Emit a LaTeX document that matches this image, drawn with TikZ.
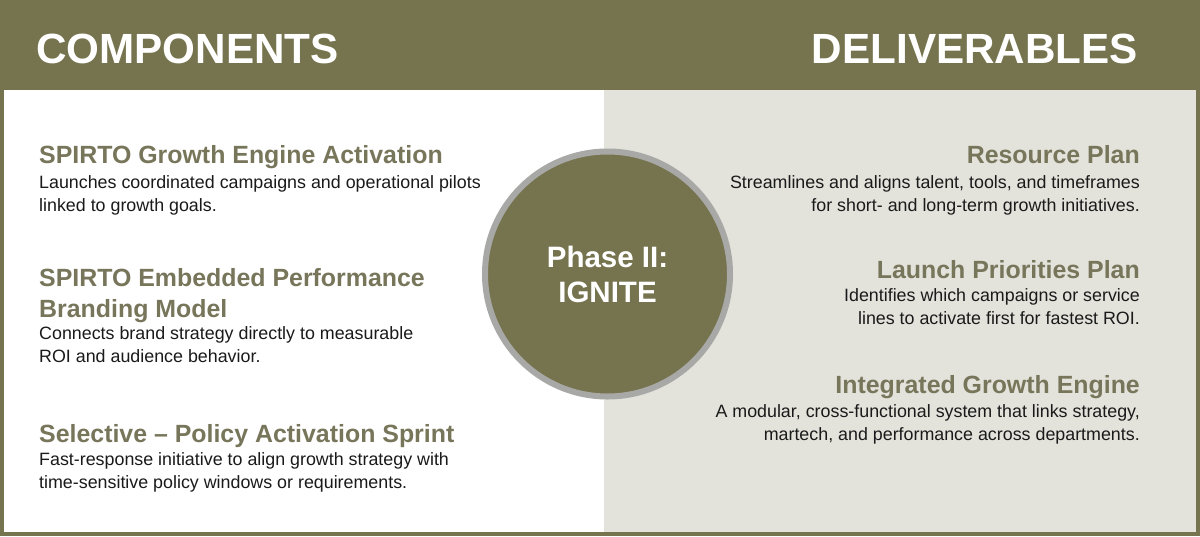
\documentclass[tikz,border=0pt]{standalone}
\usepackage{fontspec}
\setmainfont{Liberation Sans}
\definecolor{olive}{HTML}{76744F}
\definecolor{headtxt}{HTML}{77755A}
\definecolor{panelgray}{HTML}{E3E3DC}
\definecolor{ringgray}{HTML}{A8A8A6}
\definecolor{bodytxt}{HTML}{1A1A1A}
\begin{document}
\begin{tikzpicture}[x=1pt,y=-1pt,
  title/.style={font=\fontsize{42.2}{46}\selectfont\bfseries, text=white, inner sep=0pt},
  heading/.style={font=\fontsize{24.9}{31}\selectfont\bfseries, text=headtxt, inner sep=0pt},
  body/.style={font=\fontsize{17.85}{22.5}\selectfont, text=bodytxt, inner sep=0pt},
  phase/.style={font=\fontsize{29.5}{35}\selectfont\bfseries, text=white, align=center, inner sep=0pt}]
\useasboundingbox (0,0) rectangle (1200,536);
\fill[olive] (0,0) rectangle (1200,536);
\fill[white] (4,90) rectangle (604,532);
\fill[panelgray] (604,90) rectangle (1196,532);
% headers
\node[title, anchor=base west] (comp) at (36,63) {COMPONENTS};
\node[title, anchor=base east] (deliv) at (1138,63) {DELIVERABLES};
% circle
\node[circle, fill=olive, draw=ringgray, line width=6pt, minimum size=245pt, inner sep=0pt] (phasec) at (607.5,274) {};
\node[phase, anchor=base] (ph1) at (607.5,267) {Phase II:};
\node[phase, anchor=base] (ph2) at (607.5,302) {IGNITE};
% left column
\node[heading, anchor=base west] (l1h) at (39,163) {SPIRTO Growth Engine Activation};
\node[body, anchor=base west, align=left] (l1b) at (39,211) {Launches coordinated campaigns and operational pilots\\linked to growth goals.};
\node[heading, anchor=base west, align=left] (l2h) at (39,317) {SPIRTO Embedded Performance\\Branding Model};
\node[body, anchor=base west, align=left] (l2b) at (39,362) {Connects brand strategy directly to measurable\\ROI and audience behavior.};
\node[heading, anchor=base west] (l3h) at (39,442) {Selective – Policy Activation Sprint};
\node[body, anchor=base west, align=left] (l3b) at (39,488) {Fast-response initiative to align growth strategy with\\time-sensitive policy windows or requirements.};
% right column
\node[heading, anchor=base east] (r1h) at (1140,163) {Resource Plan};
\node[body, anchor=base east, align=right] (r1b) at (1140,211) {Streamlines and aligns talent, tools, and timeframes\\for short- and long-term growth initiatives.};
\node[heading, anchor=base east] (r2h) at (1140,278) {Launch Priorities Plan};
\node[body, anchor=base east, align=right] (r2b) at (1140,324) {Identifies which campaigns or service\\lines to activate first for fastest ROI.};
\node[heading, anchor=base east] (r3h) at (1140,393) {Integrated Growth Engine};
\node[body, anchor=base east, align=right] (r3b) at (1140,440) {A modular, cross-functional system that links strategy,\\martech, and performance across departments.};
\end{tikzpicture}
\end{document}
